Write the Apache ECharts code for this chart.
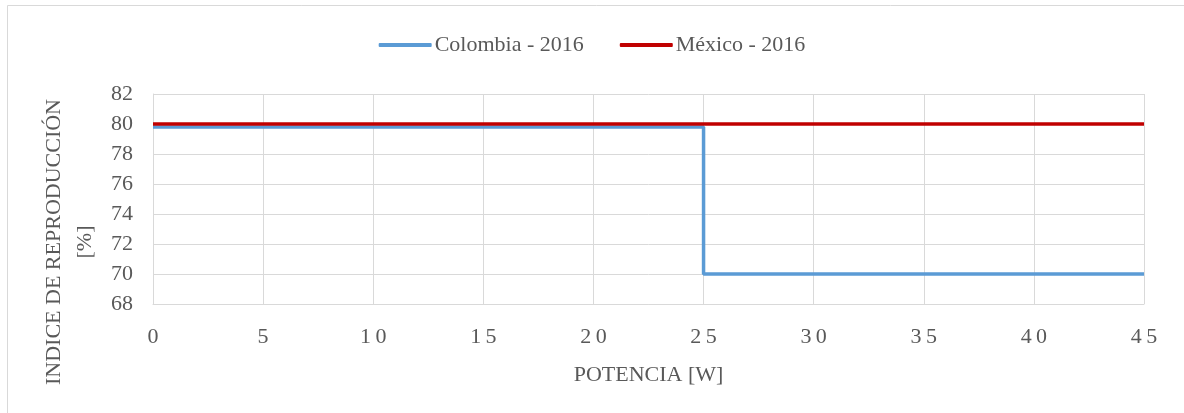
<!DOCTYPE html>
<html>
<head>
<meta charset="utf-8">
<script src="https://cdn.jsdelivr.net/npm/echarts@6/dist/echarts.min.js"></script>
<style>
  html, body { margin: 0; padding: 0; background: #fff; }
  #chart { width: 1184px; height: 413px; }
</style>
</head>
<body>
<div id="chart"></div>
<script>
let seriesNames = ['Colombia - 2016', 'México - 2016'];
// potencia [W] / indice [%]
let colombiaX = [0, 25, 25, 45];
let colombiaY = [79.8, 79.8, 70, 70];
let mexicoX = [0, 45];
let mexicoY = [80, 80];
let xTicks = [0, 5, 10, 15, 20, 25, 30, 35, 40, 45];
let yTicks = [68, 70, 72, 74, 76, 78, 80, 82];

let fontName = 'Liberation Serif';
let textColor = '#595959';
let gridColor = '#d9d9d9';

let toPairs = (xs, ys) => xs.map((x, i) => [x, ys[i]]);

let myChart = echarts.init(document.getElementById('chart'));
let option = {
  backgroundColor: '#fff',
  animation: false,
  textStyle: { fontFamily: fontName, color: textColor },
  legend: {
    top: 29,
    left: 'center',
    icon: 'roundRect',
    itemWidth: 53,
    itemHeight: 4,
    itemGap: 36,
    textStyle: { fontFamily: fontName, fontSize: 22, color: textColor, padding: [0, 0, 0, -2] },
    data: seriesNames
  },
  grid: { left: 153, right: 40, top: 94, bottom: 109 },
  xAxis: {
    type: 'value',
    min: xTicks[0],
    max: xTicks[xTicks.length - 1],
    interval: 5,
    name: 'POTENCIA [W]',
    nameLocation: 'middle',
    nameGap: 60,
    nameTextStyle: { fontFamily: fontName, fontSize: 22, color: textColor },
    axisLine: { show: true, lineStyle: { color: gridColor, width: 1 } },
    axisTick: { show: false },
    axisLabel: {
      margin: 22,
      fontFamily: fontName,
      fontSize: 22,
      color: textColor,
      formatter: v => String(v).split('').join('\u2009')
    },
    splitLine: { show: true, lineStyle: { color: gridColor, width: 1 } }
  },
  yAxis: {
    type: 'value',
    min: yTicks[0],
    max: yTicks[yTicks.length - 1],
    interval: 2,
    axisLine: { show: true, lineStyle: { color: gridColor, width: 1 } },
    axisTick: { show: false },
    axisLabel: { margin: 20, fontFamily: fontName, fontSize: 22, color: textColor },
    splitLine: { show: true, lineStyle: { color: gridColor, width: 1 } }
  },
  graphic: [
    {
      type: 'rect',
      silent: true,
      shape: { x: 7.5, y: 5.5, width: 1300, height: 600 },
      style: { fill: 'none', stroke: gridColor, lineWidth: 1 }
    },
    {
      type: 'text',
      silent: true,
      x: 70,
      y: 242,
      rotation: Math.PI / 2,
      style: {
        text: 'INDICE DE REPRODUCCIÓN\n[%]',
        font: '22px "' + fontName + '"',
        fill: textColor,
        align: 'center',
        verticalAlign: 'middle',
        lineHeight: 31
      }
    }
  ],
  series: [
    {
      name: seriesNames[0],
      type: 'line',
      symbol: 'none',
      data: toPairs(colombiaX, colombiaY),
      lineStyle: { color: '#5b9bd5', width: 3.5 },
      itemStyle: { color: '#5b9bd5' },
      z: 2
    },
    {
      name: seriesNames[1],
      type: 'line',
      symbol: 'none',
      data: toPairs(mexicoX, mexicoY),
      lineStyle: { color: '#c00000', width: 3.5 },
      itemStyle: { color: '#c00000' },
      z: 3
    }
  ]
};
myChart.setOption(option);
</script>
</body>
</html>
